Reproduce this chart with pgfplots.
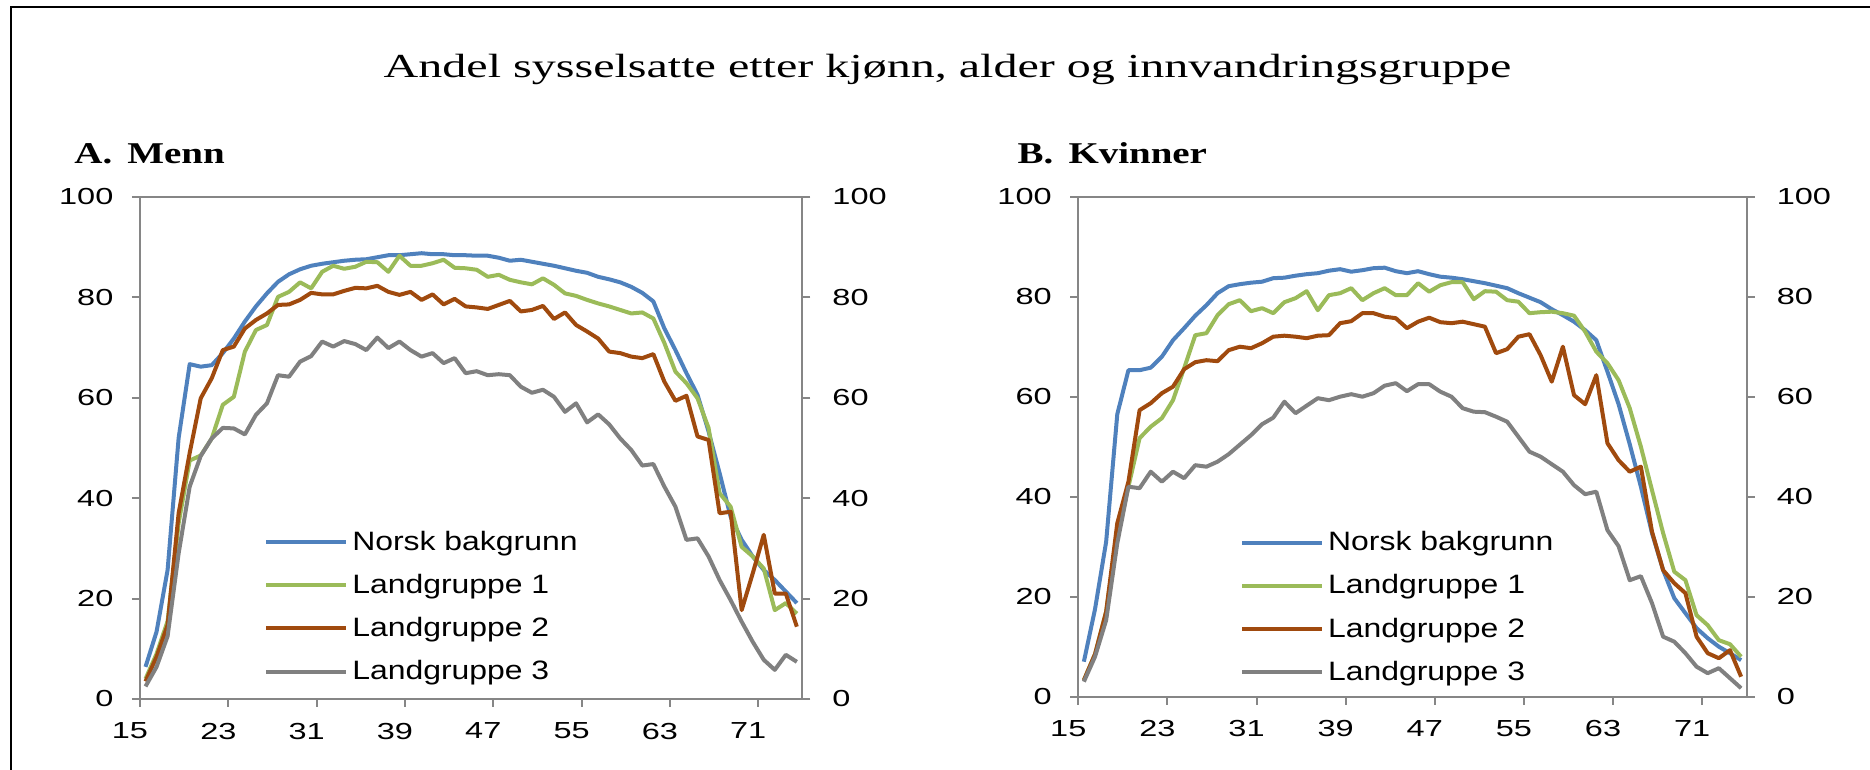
\documentclass[border=0pt]{standalone}
\usepackage{fontspec}
\setmainfont{Liberation Serif}
\newfontfamily\tickfont{Liberation Sans}[FakeStretch=1.4]
\newfontfamily\legfont{Liberation Sans}[FakeStretch=1.2]
\newfontfamily\titlefont{Liberation Serif}[FakeStretch=1.43]
\newfontfamily\subfont{Liberation Serif}[FakeStretch=1.29]
\usepackage{pgfplots}
\usepackage{pgfplotstable}
\pgfplotsset{compat=1.18}

\definecolor{cblue}{RGB}{79,129,189}
\definecolor{cgreen}{RGB}{155,187,89}
\definecolor{cbrown}{RGB}{160,74,14}
\definecolor{cgray}{RGB}{128,128,128}
\definecolor{caxis}{RGB}{134,134,134}

% Menn
\pgfplotstableread{
age norsk lg1 lg2 lg3
15 6.4 4.0 3.5 2.5
16 13.4 9.0 8.4 6.4
17 25.7 15.5 14.7 12.5
18 52.0 35.0 37.0 29.0
19 66.7 47.5 49.0 42.3
20 66.2 48.5 59.9 48.4
21 66.5 51.9 63.9 51.9
22 68.9 58.6 69.5 54.0
23 71.8 60.2 70.2 53.9
24 75.2 69.2 73.8 52.7
25 78.2 73.5 75.5 56.6
26 80.8 74.5 76.8 58.9
27 83.1 80.1 78.5 64.5
28 84.6 81.1 78.6 64.2
29 85.6 83.0 79.5 67.2
30 86.3 81.8 80.9 68.3
31 86.7 85.1 80.6 71.2
32 87.0 86.3 80.6 70.2
33 87.3 85.7 81.3 71.3
34 87.5 86.1 81.9 70.7
35 87.6 87.1 81.8 69.5
36 88.0 87.0 82.3 72.0
37 88.4 85.1 81.1 69.9
38 88.4 88.3 80.5 71.2
39 88.6 86.3 81.1 69.5
40 88.8 86.3 79.5 68.2
41 88.6 86.8 80.6 68.9
42 88.6 87.5 78.6 66.9
43 88.4 85.9 79.7 67.9
44 88.4 85.8 78.2 64.9
45 88.3 85.5 78.0 65.3
46 88.3 84.1 77.7 64.5
47 87.9 84.5 78.5 64.7
48 87.3 83.5 79.3 64.5
49 87.5 83.0 77.2 62.2
50 87.1 82.6 77.5 61.0
51 86.7 83.8 78.3 61.6
52 86.3 82.5 75.7 60.2
53 85.8 80.8 77.0 57.2
54 85.3 80.3 74.5 58.9
55 84.9 79.5 73.2 55.1
56 84.1 78.8 71.8 56.7
57 83.6 78.2 69.2 54.7
58 83.0 77.5 68.9 51.9
59 82.1 76.8 68.2 49.6
60 80.9 77.0 67.9 46.5
61 79.2 75.8 68.7 46.8
62 73.8 70.9 63.2 42.3
63 69.5 65.2 59.4 38.3
64 64.9 62.9 60.4 31.7
65 60.6 59.9 52.3 32.0
66 53.3 54.0 51.6 28.4
67 45.0 41.0 37.0 23.7
68 36.3 38.3 37.3 19.7
69 31.7 30.3 17.7 15.4
70 28.4 28.4 25.0 11.4
71 25.7 26.0 32.7 7.8
72 23.7 17.7 21.0 5.8
73 21.4 19.1 21.0 8.8
74 19.1 17.0 14.4 7.4
}\menn

% Kvinner
\pgfplotstableread{
age norsk lg1 lg2 lg3
15 7.0 3.3 3.3 3.0
16 17.5 8.5 8.5 8.0
17 31.0 17.0 17.0 15.3
18 56.5 33.0 34.7 30.7
19 65.3 42.0 43.0 42.0
20 65.3 51.7 57.3 41.7
21 65.8 54.0 58.7 45.0
22 68.0 55.7 60.7 43.0
23 71.3 59.3 62.0 45.0
24 73.7 65.7 65.5 43.7
25 76.2 72.3 66.9 46.3
26 78.3 72.7 67.3 46.0
27 80.7 76.3 67.1 47.0
28 82.1 78.5 69.3 48.5
29 82.5 79.3 70.0 50.4
30 82.8 77.1 69.7 52.3
31 83.0 77.7 70.7 54.5
32 83.7 76.7 72.0 55.8
33 83.8 78.9 72.2 59.0
34 84.2 79.7 72.0 56.7
35 84.5 81.1 71.7 58.2
36 84.7 77.3 72.2 59.7
37 85.2 80.3 72.3 59.3
38 85.5 80.7 74.7 60.0
39 85.0 81.7 75.1 60.5
40 85.3 79.3 76.7 60.0
41 85.7 80.7 76.7 60.7
42 85.8 81.7 76.0 62.2
43 85.1 80.3 75.7 62.7
44 84.7 80.3 73.7 61.1
45 85.1 82.7 75.0 62.5
46 84.5 81.0 75.8 62.5
47 84.0 82.3 74.9 61.0
48 83.8 82.9 74.7 60.0
49 83.5 82.9 75.0 57.7
50 83.1 79.5 74.5 57.0
51 82.7 81.1 74.0 56.9
52 82.2 81.0 68.7 56.0
53 81.7 79.3 69.5 55.0
54 80.7 79.0 72.0 52.0
55 79.8 76.7 72.5 49.0
56 78.9 76.9 68.3 48.0
57 77.5 77.0 63.0 46.5
58 76.3 76.7 70.0 45.0
59 75.0 76.2 60.3 42.3
60 73.3 73.0 58.5 40.5
61 71.3 69.0 64.3 41.0
62 65.0 66.7 50.7 33.3
63 58.5 63.3 47.3 30.1
64 50.5 57.7 45.0 23.3
65 42.0 50.0 46.0 24.1
66 32.7 41.3 33.0 18.7
67 25.3 32.7 25.3 12.0
68 19.7 25.0 22.7 11.0
69 16.7 23.3 20.7 8.7
70 13.7 16.3 12.0 6.0
71 11.7 14.3 8.7 4.7
72 10.0 11.3 7.7 5.7
73 8.7 10.5 9.3 3.7
74 7.3 8.0 4.0 1.7
}\kvinner

\pgfplotsset{
  panel/.style={
    scale only axis,
    xmin=14.5, xmax=74.5, ymin=0, ymax=100,
    ytick={0,20,40,60,80,100},
    axis line style={caxis, line width=1pt},
    tick style={caxis, line width=1pt},
    major tick length=4pt,
    tick align=outside,
    ticklabel style={font=\tickfont\fontsize{11.6}{14}\selectfont, text=black},
    /pgf/number format/assume math mode=true,
  },
  mainpanel/.style={
    panel,
    xtick={14.5,22.5,30.5,38.5,46.5,54.5,62.5,70.5},
    xticklabels={15,23,31,39,47,55,63,71},
    xticklabel style={xshift=-5pt, yshift=-4.4pt},
    yticklabel style={xshift=-5.8pt},
    xtick pos=bottom, ytick pos=left,
    legend cell align=left,
    legend style={draw=none, fill=none, inner sep=0pt, row sep=6.4pt,
      font=\legfont\fontsize{13.3}{16}\selectfont, anchor=north west},
    legend image code/.code={\draw[#1] (0pt,0pt) -- (40pt,0pt);},
    every axis plot/.append style={line width=2pt, line join=round},
  },
  rightpanel/.style={
    panel,
    axis x line=none,
    axis y line*=right,
    yticklabel style={xshift=7.5pt},
  },
}

\begin{document}
\begin{tikzpicture}
\useasboundingbox (0,0) rectangle (935pt,385pt);
\draw[line width=1pt] (5.5pt,0pt) -- (5.5pt,381.5pt) -- (935pt,381.5pt);

\node[anchor=base, inner sep=0pt, font=\titlefont\fontsize{16.8}{20}\selectfont] at (473.75pt,346.3pt)
  {Andel sysselsatte etter kjønn, alder og innvandringsgruppe};
\node[anchor=base west, inner sep=0pt, font=\subfont\bfseries\fontsize{15.1}{18}\selectfont] at (37pt,303.3pt)
  {A.\hspace{0.5em}Menn};
\node[anchor=base west, inner sep=0pt, font=\subfont\bfseries\fontsize{15.1}{18}\selectfont] at (508.65pt,303.3pt)
  {B.\hspace{0.5em}Kvinner};

% Panel A
\begin{axis}[mainpanel, at={(70pt,35.5pt)}, anchor=south west,
  width=331.2pt, height=251pt,
  legend style={at={(0.187,0.343)}}]
  \addplot[cblue] table[x=age, y=norsk] {\menn};
  \addplot[cgreen] table[x=age, y=lg1] {\menn};
  \addplot[cbrown] table[x=age, y=lg2] {\menn};
  \addplot[cgray] table[x=age, y=lg3] {\menn};
  \legend{Norsk bakgrunn, Landgruppe 1, Landgruppe 2, Landgruppe 3}
\end{axis}
\begin{axis}[rightpanel, at={(70pt,35.5pt)}, anchor=south west,
  width=331.2pt, height=251pt]
\end{axis}

% Panel B
\begin{axis}[mainpanel, at={(539.15pt,36.65pt)}, anchor=south west,
  width=334.2pt, height=250pt,
  legend style={at={(0.2415,0.339)}}]
  \addplot[cblue] table[x=age, y=norsk] {\kvinner};
  \addplot[cgreen] table[x=age, y=lg1] {\kvinner};
  \addplot[cbrown] table[x=age, y=lg2] {\kvinner};
  \addplot[cgray] table[x=age, y=lg3] {\kvinner};
  \legend{Norsk bakgrunn, Landgruppe 1, Landgruppe 2, Landgruppe 3}
\end{axis}
\begin{axis}[rightpanel, at={(539.15pt,36.65pt)}, anchor=south west,
  width=334.2pt, height=250pt]
\end{axis}
\end{tikzpicture}
\end{document}
